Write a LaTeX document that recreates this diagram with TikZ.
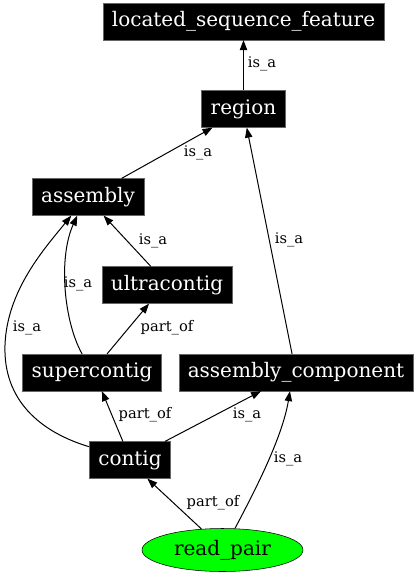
\documentclass[tikz,border=0pt]{standalone}
\usepackage{fontspec}
\setmainfont{DejaVu Serif}
\usetikzlibrary{arrows.meta}
\usetikzlibrary{shapes.geometric}

\begin{document}
\begin{tikzpicture}[x=0.75pt, y=-0.75pt,
    term/.style={fill=black, draw=black!60, text=white, font=\fontsize{15}{18}\selectfont,
      minimum height=27.5pt, inner xsep=6.75pt, inner ysep=0pt},
    leaf/.style={ellipse, fill=green, draw=black, font=\fontsize{15}{18}\selectfont,
      minimum width=120.75pt, minimum height=32.25pt, inner sep=0pt},
    rel/.style={font=\fontsize{11}{13}\selectfont, inner sep=1pt},
    edge/.style={-{Triangle[length=7.5pt, width=5.5pt]}, line width=0.75pt}]
      \useasboundingbox (0, 0) rectangle (418, 576);

      \node[term] (located) at (243.5, 21.5) {located\_sequence\_feature};
      \node[term] (region) at (243.5, 109) {region};
      \node[term] (assembly) at (88, 197) {assembly};
      \node[term] (ultracontig) at (167, 285) {ultracontig};
      \node[term] (supercontig) at (92, 372.5) {supercontig};
      \node[term] (component) at (296, 372.5) {assembly\_component};
      \node[term] (contig) at (130, 460) {contig};
      \node[leaf] (readpair) at (222.5, 550) {read\_pair};

      \draw[edge] (region.north) -- (located.south);
      \node[rel] (l1) at (262, 64) {is\_a};
      \draw[edge] (assembly.29) -- (region.211);
      \node[rel] (l2) at (198, 153) {is\_a};
      \draw[edge] (component.102) -- (region.280);
      \node[rel] (l3) at (289, 240) {is\_a};

      \draw[edge] (ultracontig.131) -- (assembly.310);
      \node[rel] (l4) at (153, 241) {is\_a};
      \draw[edge] (supercontig.118) .. controls (64, 322) and (58, 258) .. (assembly.240);
      \node[rel] (l5) at (78, 284) {is\_a};
      \draw[edge] (supercontig.51) -- (ultracontig.226);
      \node[rel] (l6) at (167, 328) {part\_of};
      \draw[edge] (contig.162) .. controls (40, 432) and (3, 400) .. (5, 345)
        .. controls (7, 290) and (45, 248) .. (assembly.228);
      \node[rel] (l7) at (27, 328) {is\_a};

      \draw[edge] (contig.111) -- (supercontig.298);
      \node[rel] (l8) at (145, 415) {part\_of};
      \draw[edge] (contig.28) -- (component.208);
      \node[rel] (l9) at (247, 415) {is\_a};

      \draw[edge] (readpair.135) -- (contig.313);
      \node[rel] (l10) at (213, 503) {part\_of};
      \draw[edge] (readpair.60) .. controls (250, 500) and (282, 440) .. (component.252);
      \node[rel] (l11) at (288, 459) {is\_a};
    \end{tikzpicture}
\end{document}
